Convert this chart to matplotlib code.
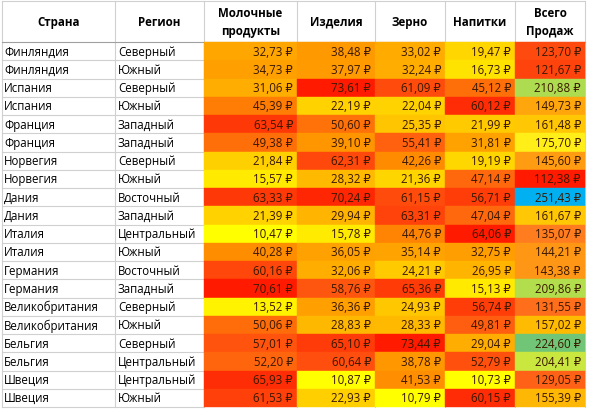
import matplotlib
matplotlib.use("Agg")
import matplotlib.pyplot as plt
from matplotlib.colors import LinearSegmentedColormap, Normalize
import numpy as np

countries = ["Финляндия","Финляндия","Испания","Испания","Франция","Франция","Норвегия","Норвегия","Дания","Дания",
             "Италия","Италия","Германия","Германия","Великобритания","Великобритания","Бельгия","Бельгия","Швеция","Швеция"]
regions = ["Северный","Южный","Северный","Южный","Западный","Западный","Северный","Южный","Восточный","Западный",
           "Центральный","Южный","Восточный","Западный","Северный","Южный","Северный","Центральный","Центральный","Южный"]
dairy = [32.73,34.73,31.06,45.39,63.54,49.38,21.84,15.57,63.33,21.39,10.47,40.28,60.16,70.61,13.52,50.06,57.01,52.20,65.93,61.53]
goods = [38.48,37.97,73.61,22.19,50.60,39.10,62.31,28.32,70.24,29.94,15.78,36.05,32.06,58.76,36.36,28.83,65.10,60.64,10.87,22.93]
grain = [33.02,32.24,61.09,22.04,25.35,55.41,42.26,21.36,61.15,63.31,44.76,35.14,24.21,65.36,24.93,28.33,73.44,38.78,41.53,10.79]
drinks = [19.47,16.73,45.12,60.12,21.99,31.81,19.19,47.14,56.71,47.04,64.06,32.75,26.95,15.13,56.74,49.81,29.04,52.79,10.73,60.15]
total = [123.70,121.67,210.88,149.73,161.48,175.70,145.60,112.38,251.43,161.67,135.07,144.21,143.38,209.86,131.55,157.02,224.60,204.41,129.05,155.39]
headers = ["Страна","Регион","Молочные\nпродукты","Изделия","Зерно","Напитки","Всего\nПродаж"]

heat = LinearSegmentedColormap.from_list("h", ["#ffff00","#ffc000","#ff8c00","#ff5a10","#ff1a00"])
tot = LinearSegmentedColormap.from_list("t", ["#ff1a00","#ff8020","#ffc000","#ffff20","#c8e640","#60c080","#00b0f0"])

edges = [2,115,204,297,375,445,515,585]
top, hh, rh = 2, 41, 18.25

fig = plt.figure(figsize=(5.92,4.10), dpi=100)
ax = fig.add_axes([0,0,1,1])
ax.set_xlim(0,592); ax.set_ylim(410,0); ax.axis("off")
fig.patch.set_facecolor("white")
fam = ["Open Sans","DejaVu Sans"]
fs = 8.3

for j,h in enumerate(headers):
    cx = (edges[j]+edges[j+1])/2
    ax.text(cx, top+hh/2, h, ha="center", va="center", fontsize=fs, fontweight="bold", family=fam, linespacing=1.5)
for x in edges:
    ax.plot([x,x],[top,top+hh+rh*20],color="#d0d0d0",lw=0.8,zorder=1)
ax.plot([edges[0],edges[-1]],[top,top],color="#d0d0d0",lw=0.8)
ax.plot([edges[0],edges[-1]],[top+hh,top+hh],color="#a0a0a0",lw=0.8)

cols = [dairy,goods,grain,drinks,total]
for i in range(20):
    y0 = top+hh+i*rh
    ax.plot([edges[0],edges[2]],[y0+rh,y0+rh],color="#d0d0d0",lw=0.8)
    ax.text(edges[0]+2, y0+rh/2, countries[i], ha="left", va="center", fontsize=fs, family=fam)
    ax.text(edges[1]+3, y0+rh/2, regions[i], ha="left", va="center", fontsize=fs, family=fam)
    for k,col in enumerate(cols):
        cm = tot if k==4 else heat
        v = col[i]
        c = cm(Normalize(min(col),max(col))(v))
        x0 = edges[k+2]
        ax.add_patch(plt.Rectangle((x0,y0),edges[k+3]-x0,rh,facecolor=c,edgecolor=c,lw=0.3,zorder=2))
        ax.text(edges[k+3]-4, y0+rh/2, f"{v:.2f}".replace(".",",")+" ₽", ha="right", va="center",
                fontsize=fs, family=fam, color="#3a1800", zorder=3)
fig.savefig("out.png", dpi=100)
